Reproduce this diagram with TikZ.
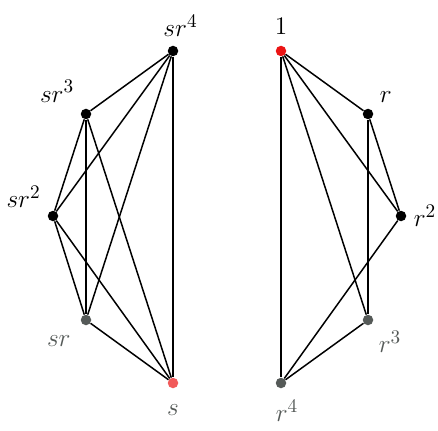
\documentclass[tikz,border=0pt]{standalone}
\usepackage{tikz}
\usetikzlibrary{positioning}
\usepackage{xcolor}
\definecolor{idred}{RGB}{235,20,20}
\definecolor{fadegray}{RGB}{85,90,88}

\begin{document}
\begin{tikzpicture}[
    vtx/.style={circle, fill=black, inner sep=0pt, minimum size=0.21cm},
    faded/.style={vtx, fill=fadegray},
    edge/.style={line width=0.85pt, black},
    lbl/.style={font=\fontsize{15.5}{18}\selectfont, label distance=0.05cm},
]
\useasboundingbox (0,0) rectangle (8.76,8.6);

% left component (coset sD)
\node[vtx, label={[lbl, xshift=0.15cm]above:$sr^4$}] (sr4) at (3.46, 7.58) {};
\node[vtx, label={[lbl]above left:$sr^3$}] (sr3) at (1.72, 6.32) {};
\node[vtx, label={[lbl, label distance=0.02cm]160:$sr^2$}] (sr2) at (1.06, 4.28) {};
\node[faded, label={[lbl, text=fadegray, label distance=0.15cm]below left:$sr$}] (sr) at (1.72, 2.20) {};
\node[faded, fill=idred!70, label={[lbl, text=fadegray, label distance=0.2cm]below:$s$}] (s) at (3.46, 0.94) {};

% right component (rotations)
\node[vtx, fill=idred, label={[lbl, label distance=0.1cm]above:$1$}] (one) at (5.62, 7.58) {};
\node[vtx, label={[lbl]above right:$r$}] (r) at (7.36, 6.32) {};
\node[vtx, label={[lbl, label distance=0.02cm]right:$r^2$}] (r2) at (8.02, 4.28) {};
\node[faded, label={[lbl, text=fadegray, label distance=0.02cm]below right:$r^3$}] (r3) at (7.36, 2.20) {};
\node[faded, label={[lbl, text=fadegray, xshift=0.12cm, label distance=0.1cm]below:$r^4$}] (r4) at (5.62, 0.94) {};

% edges
\draw[edge] (sr4) -- (sr3);
\draw[edge] (sr4) -- (sr2);
\draw[edge] (sr4) -- (sr);
\draw[edge] (sr4) -- (s);
\draw[edge] (sr3) -- (sr2);
\draw[edge] (sr3) -- (sr);
\draw[edge] (sr3) -- (s);
\draw[edge] (sr2) -- (sr);
\draw[edge] (sr2) -- (s);
\draw[edge] (sr) -- (s);

\draw[edge] (one) -- (r);
\draw[edge] (one) -- (r2);
\draw[edge] (one) -- (r3);
\draw[edge] (one) -- (r4);
\draw[edge] (r) -- (r2);
\draw[edge] (r) -- (r3);
\draw[edge] (r2) -- (r4);
\draw[edge] (r3) -- (r4);

\end{tikzpicture}
\end{document}
